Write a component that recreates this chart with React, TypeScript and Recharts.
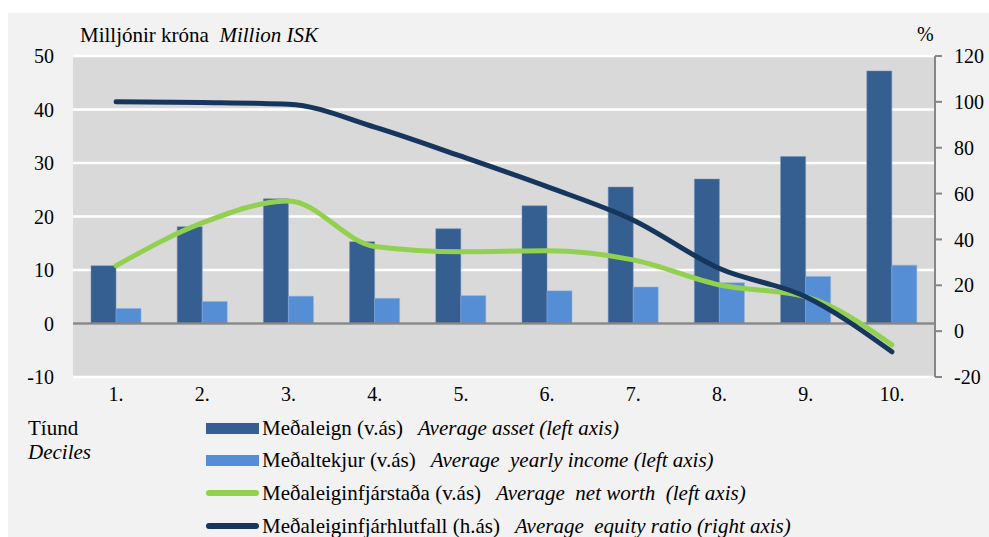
import { Bar, CartesianGrid, ComposedChart, Line, ReferenceLine, XAxis, YAxis } from "recharts";

const deciles = ["1.", "2.", "3.", "4.", "5.", "6.", "7.", "8.", "9.", "10."];
const avgAsset = [10.8, 18.1, 23.3, 15.3, 17.7, 22.0, 25.5, 27.0, 31.2, 47.2];
const avgIncome = [2.8, 4.1, 5.1, 4.7, 5.2, 6.1, 6.8, 7.6, 8.8, 10.9];
const avgNetWorth = [10.8, 18.8, 22.9, 14.4, 13.4, 13.6, 11.9, 7.2, 5.0, -4.0];
const equityRatio = [100, 99.7, 99, 89, 76.3, 63, 48.4, 27.3, 15, -9];

const leftTicks = [-10, 0, 10, 20, 30, 40, 50];
const rightTicks = [-20, 0, 20, 40, 60, 80, 100, 120];

const data = deciles.map((d, i) => ({
  decile: d,
  asset: avgAsset[i],
  income: avgIncome[i],
  netWorth: avgNetWorth[i],
  equity: equityRatio[i],
}));

const font = "Liberation Serif, Tinos, DejaVu Serif, Times New Roman, serif";
const tick = { fill: "#000", fontSize: 20, fontFamily: font };

const COLORS = {
  asset: "#365f91",
  income: "#558ed5",
  netWorth: "#92d050",
  equity: "#17365d",
};

type LegendRow = { color: string; kind: "bar" | "line"; is: string; en: string };

const legendRows: LegendRow[] = [
  { color: COLORS.asset, kind: "bar", is: "Meðaleign (v.ás)", en: "Average asset (left axis)" },
  { color: COLORS.income, kind: "bar", is: "Meðaltekjur (v.ás)", en: "Average  yearly income (left axis)" },
  { color: COLORS.netWorth, kind: "line", is: "Meðaleiginfjárstaða (v.ás)", en: "Average  net worth  (left axis)" },
  { color: COLORS.equity, kind: "line", is: "Meðaleiginfjárhlutfall (h.ás)", en: "Average  equity ratio (right axis)" },
];

export default function App() {
  return (
    <div
      style={{
        position: "fixed",
        left: 8,
        top: 13,
        width: 981,
        height: 524,
        background: "#f2f2f2",
        fontFamily: font,
        color: "#000",
        overflow: "hidden",
      }}
    >
      <div style={{ position: "absolute", left: 72, top: 10, fontSize: 21, whiteSpace: "pre" }}>
        Milljónir króna  <i>Million ISK</i>
      </div>
      <div style={{ position: "absolute", left: 909, top: 10, fontSize: 20 }}>%</div>

      <div style={{ position: "absolute", left: 0, top: 0 }}>
        <ComposedChart
          width={981}
          height={410}
          data={data}
          margin={{ top: 43, right: 0, bottom: 16, left: 0 }}
          barGap={0}
        >
          <CartesianGrid yAxisId="left" vertical={false} stroke="#ffffff" strokeWidth={2.5} fill="#d9d9d9" />
          <XAxis
            dataKey="decile"
            axisLine={false}
            tickLine={false}
            tickSize={0}
            tickMargin={10}
            height={30}
            tick={tick}
            interval={0}
          />
          <YAxis
            yAxisId="left"
            domain={[-10, 50]}
            ticks={leftTicks}
            axisLine={false}
            tickLine={false}
            tickSize={0}
            tickMargin={19}
            width={65}
            tick={tick}
            interval={0}
          />
          <YAxis
            yAxisId="right"
            orientation="right"
            domain={[-20, 120]}
            ticks={rightTicks}
            axisLine={{ stroke: "#868686", strokeWidth: 2 }}
            tickLine={{ stroke: "#868686", strokeWidth: 2 }}
            tickSize={7}
            tickMargin={12}
            width={54}
            tick={tick}
            interval={0}
          />
          <ReferenceLine yAxisId="left" y={0} stroke="#868686" strokeWidth={2.5} />
          <Bar yAxisId="left" dataKey="asset" fill={COLORS.asset} stroke="#6f8fb8" strokeWidth={0.5} barSize={25} isAnimationActive={false} />
          <Bar yAxisId="left" dataKey="income" fill={COLORS.income} stroke="#86aee0" strokeWidth={0.5} barSize={25} isAnimationActive={false} />
          <Line
            yAxisId="left"
            type="monotone"
            dataKey="netWorth"
            stroke={COLORS.netWorth}
            strokeWidth={5}
            strokeLinecap="round"
            dot={false}
            activeDot={false}
            isAnimationActive={false}
          />
          <Line
            yAxisId="right"
            type="monotone"
            dataKey="equity"
            stroke={COLORS.equity}
            strokeWidth={5}
            strokeLinecap="round"
            dot={false}
            activeDot={false}
            isAnimationActive={false}
          />
        </ComposedChart>
      </div>

      <div style={{ position: "absolute", left: 20, top: 403, fontSize: 21, lineHeight: "24px" }}>
        <div>Tíund</div>
        <div style={{ fontStyle: "italic" }}>Deciles</div>
      </div>

      {legendRows.map((r, i) => (
        <div
          key={r.is}
          style={{
            position: "absolute",
            left: 198,
            top: 403 + i * 32.7,
            height: 24,
            display: "flex",
            alignItems: "center",
            fontSize: 21,
            whiteSpace: "pre",
          }}
        >
          <span
            style={{
              display: "inline-block",
              width: 53,
              height: r.kind === "bar" ? 11 : 6,
              borderRadius: r.kind === "bar" ? 0 : 3,
              background: r.color,
              marginRight: 3,
            }}
          />
          <span>{r.is}</span>
          <span style={{ fontStyle: "italic", marginLeft: 15 }}>{r.en}</span>
        </div>
      ))}
    </div>
  );
}
